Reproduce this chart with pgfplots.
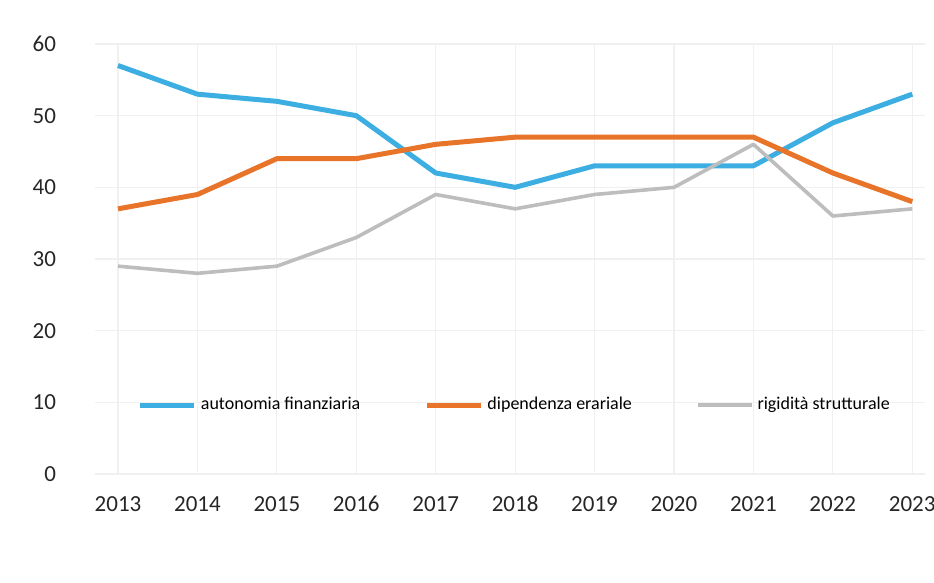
\documentclass[border=0pt]{standalone}
\usepackage{fontspec}
\setmainfont{Carlito}
\usepackage{pgfplots}
\pgfplotsset{compat=1.18}
\definecolor{cblue}{HTML}{3CAEE2}
\definecolor{corange}{HTML}{E8742A}
\definecolor{cgray}{HTML}{BDBDBD}
\begin{document}
\begin{tikzpicture}
\useasboundingbox (0,0) rectangle (467pt,291.5pt);
\begin{axis}[
  at={(47.5pt,54.5pt)}, anchor=south west,
  scale only axis, width=415pt, height=215pt,
  xmin=2012.71, xmax=2023.16, ymin=0, ymax=60,
  xtick={2013,...,2023}, ytick={0,10,...,60},
  xticklabel={\pgfmathprintnumber[1000 sep={}]{\tick}},
  /pgf/number format/assume math mode=true,
  /pgf/number format/1000 sep={},
  tick label style={font=\fontsize{11.5}{13}\selectfont, text=black!85},
  yticklabel style={xshift=-16pt},
  xticklabel style={yshift=-7pt, text height=8pt, text depth=0pt},
  axis line style={draw=none}, major tick length=0pt,
  grid=major, major grid style={black!6, line width=0.6pt},
  legend columns=3,
  legend style={at={(0.507,0.16)}, anchor=center, draw=none, fill=none,
    font=\fontsize{9}{11}\selectfont, inner sep=0pt,
    /tikz/every even column/.append style={column sep=30pt}},
  legend image code/.code={\draw[#1] (0cm,0cm) -- (0.95cm,0cm);},
]
\addplot[cblue, line width=2.5pt, line join=round] coordinates {
 (2013,57) (2014,53) (2015,52) (2016,50) (2017,42) (2018,40) (2019,43) (2020,43) (2021,43) (2022,49) (2023,53)};
\addlegendentry{autonomia finanziaria}
\addplot[corange, line width=2.5pt, line join=round] coordinates {
 (2013,37) (2014,39) (2015,44) (2016,44) (2017,46) (2018,47) (2019,47) (2020,47) (2021,47) (2022,42) (2023,38)};
\addlegendentry{dipendenza erariale}
\addplot[cgray, line width=1.8pt, line join=round] coordinates {
 (2013,29) (2014,28) (2015,29) (2016,33) (2017,39) (2018,37) (2019,39) (2020,40) (2021,46) (2022,36) (2023,37)};
\addlegendentry{rigidità strutturale}
\end{axis}
\end{tikzpicture}
\end{document}
